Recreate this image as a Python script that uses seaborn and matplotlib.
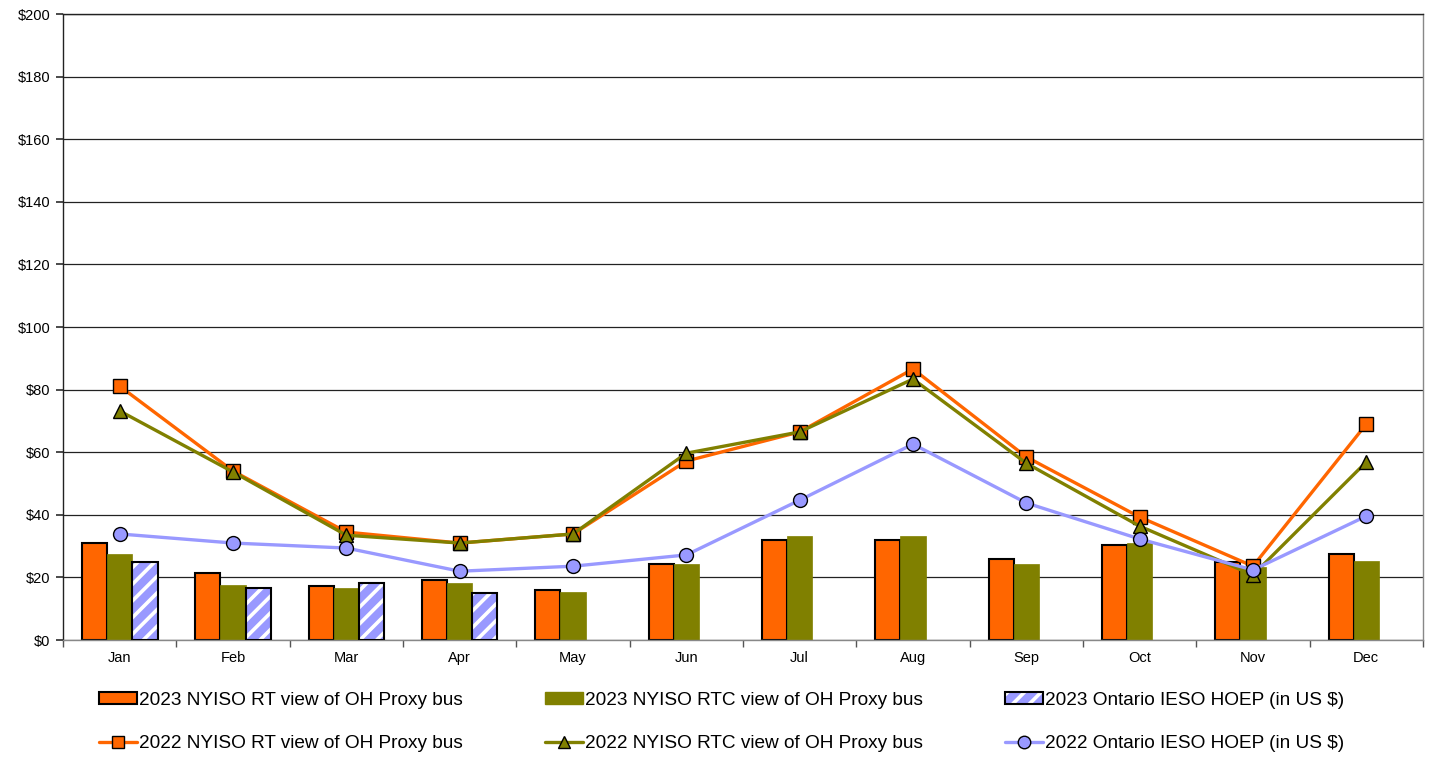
#!/usr/bin/env python3
"""Precios mensuales en el proxy bus de Ontario (OH): 2023 vs 2022."""

import matplotlib

matplotlib.use("Agg")

import matplotlib.pyplot as plt
import pandas as pd
import seaborn as sns
from matplotlib.colors import to_hex, to_rgba
from matplotlib.lines import Line2D
from matplotlib.patches import Patch, Rectangle
from matplotlib.ticker import FixedLocator, StrMethodFormatter

MONTHS = ["Jan", "Feb", "Mar", "Apr", "May", "Jun",
          "Jul", "Aug", "Sep", "Oct", "Nov", "Dec"]

# barras 2023
RT_2023 = [31.1, 21.5, 17.3, 19.2, 16.0, 24.2, 31.9, 31.9, 25.9, 30.4, 24.8, 27.4]
RTC_2023 = [27.4, 17.6, 16.7, 18.3, 15.2, 24.2, 33.3, 33.3, 24.2, 30.9, 23.4, 25.2]
IESO_2023 = [24.8, 16.7, 18.1, 15.1, None, None, None, None, None, None, None, None]

# lineas 2022
RT_2022 = [81.1, 54.0, 34.5, 31.0, 33.9, 57.2, 66.5, 86.6, 58.5, 39.3, 23.6, 69.0]
RTC_2022 = [73.2, 53.7, 33.5, 31.0, 33.9, 59.7, 66.5, 83.4, 56.5, 36.4, 20.8, 56.9]
IESO_2022 = [33.9, 31.0, 29.4, 22.0, 23.6, 27.2, 44.7, 62.6, 43.8, 32.3, 22.4, 39.6]

LBL_RT_23 = "2023 NYISO RT view of OH Proxy bus"
LBL_RTC_23 = "2023 NYISO RTC view of OH Proxy bus"
LBL_IESO_23 = "2023 Ontario IESO HOEP (in US $)"
LBL_RT_22 = "2022 NYISO RT view of OH Proxy bus"
LBL_RTC_22 = "2022 NYISO RTC view of OH Proxy bus"
LBL_IESO_22 = "2022 Ontario IESO HOEP (in US $)"

ORANGE = "#FF6600"
OLIVE = "#808000"
LILAC = "#9999FF"


def main() -> None:
    sns.set_theme(style="white")
    plt.rcParams["font.family"] = ["Liberation Sans", "DejaVu Sans"]
    plt.rcParams["hatch.linewidth"] = 2.6

    bars = pd.DataFrame({
        "month": MONTHS * 3,
        "value": RT_2023 + RTC_2023 + IESO_2023,
        "serie": [LBL_RT_23] * 12 + [LBL_RTC_23] * 12 + [LBL_IESO_23] * 12,
    })

    fig = plt.figure(figsize=(14.33, 7.62), dpi=100)
    ax = fig.add_axes([0.044, 0.160, 0.949, 0.8216])

    sns.barplot(
        data=bars, x="month", y="value", hue="serie",
        order=MONTHS, hue_order=[LBL_RT_23, LBL_RTC_23, LBL_IESO_23],
        palette=[ORANGE, OLIVE, LILAC], width=0.667, gap=0,
        saturation=1, errorbar=None, legend=False, ax=ax, zorder=2,
    )

    for p in list(ax.patches):
        h = p.get_height()
        if h == 0 or h != h:
            continue
        fc = to_hex(p.get_facecolor()).lower()
        if fc == ORANGE.lower():
            p.set_edgecolor("black")
            p.set_linewidth(1.5)
        elif fc == OLIVE.lower():
            p.set_edgecolor(OLIVE)
            p.set_linewidth(0.5)
        else:
            p.set_hatch("//")
            p.set_edgecolor("white")
            p.set_linewidth(0)
            ax.add_patch(Rectangle(p.get_xy(), p.get_width(), h,
                                   fill=False, edgecolor="black", lw=1.5, zorder=3))

    for vals, col, mk, ms in [(RT_2022, ORANGE, "s", 9.5),
                              (RTC_2022, OLIVE, "^", 10),
                              (IESO_2022, LILAC, "o", 10)]:
        sns.pointplot(
            x=MONTHS, y=vals, color=col, marker=mk, markersize=ms,
            markeredgecolor="black", markeredgewidth=1.0, linewidth=2.4,
            errorbar=None, ax=ax, zorder=4,
        )

    ax.set_xlim(-0.5, 11.5)
    ax.set_ylim(0, 200)
    ax.set_yticks(range(0, 201, 20))
    ax.yaxis.set_major_formatter(StrMethodFormatter("${x:,.0f}"))
    ax.yaxis.grid(True, color="#222222", lw=0.9)
    ax.set_axisbelow(True)
    ax.set_xlabel("")
    ax.set_ylabel("")

    ax.xaxis.set_minor_locator(FixedLocator([i - 0.5 for i in range(13)]))
    ax.tick_params(axis="x", which="major", length=0, labelsize=10.5, pad=8,
                   colors="black")
    ax.tick_params(axis="x", which="minor", length=5, color="#555555",
                   direction="out", bottom=True)
    ax.tick_params(axis="y", length=5, labelsize=10.5, color="#333333",
                   direction="out", left=True, colors="black", pad=4)

    for side in ["left", "top"]:
        ax.spines[side].set_color("#222222")
        ax.spines[side].set_linewidth(1.0)
    for side in ["right", "bottom"]:
        ax.spines[side].set_color("#888888")
        ax.spines[side].set_linewidth(1.0)

    handles = [
        Patch(facecolor=ORANGE, edgecolor="black", lw=1.5),
        Line2D([], [], color=ORANGE, lw=2.4, marker="s", markersize=9,
               markeredgecolor="black"),
        Patch(facecolor=OLIVE, edgecolor=OLIVE),
        Line2D([], [], color=OLIVE, lw=2.4, marker="^", markersize=9,
               markeredgecolor="black"),
        Patch(facecolor=LILAC, edgecolor="black", lw=1.5, hatch="//"),
        Line2D([], [], color=LILAC, lw=2.4, marker="o", markersize=9,
               markeredgecolor="black"),
    ]
    labels = [LBL_RT_23, LBL_RT_22, LBL_RTC_23, LBL_RTC_22, LBL_IESO_23, LBL_IESO_22]
    leg = fig.legend(
        handles, labels, ncol=3, loc="lower center", bbox_to_anchor=(0.5035, -0.01),
        frameon=False, fontsize=13.7, handlelength=2.0, handleheight=0.55,
        handletextpad=0.1, columnspacing=4.3, labelspacing=1.4, labelcolor="black",
    )
    for lp in leg.get_patches():
        if lp.get_hatch():
            lp._hatch_color = to_rgba("white")

    fig.savefig("out.png", dpi=100, facecolor="white")
    plt.close(fig)


if __name__ == "__main__":
    main()
